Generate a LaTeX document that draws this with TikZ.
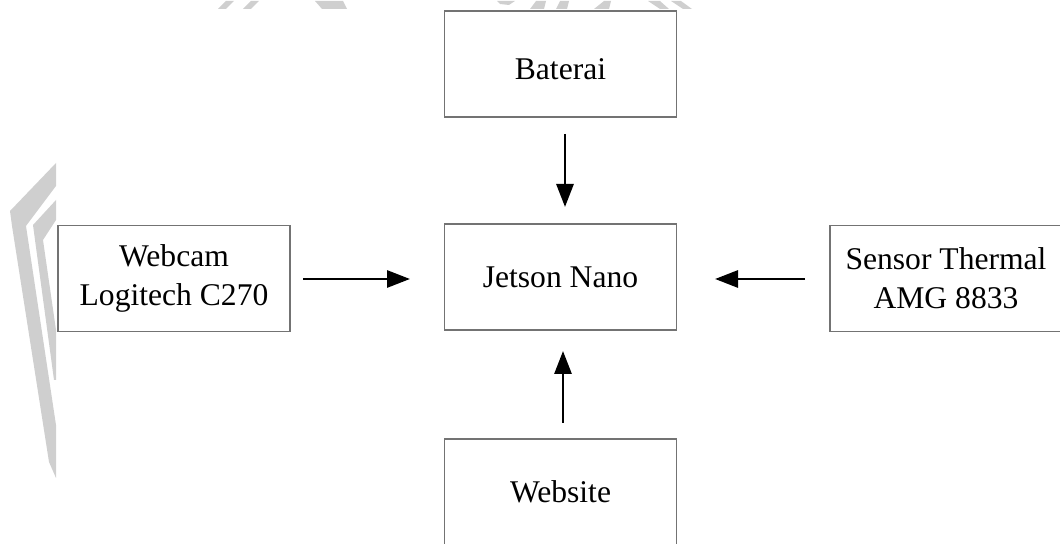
\documentclass[tikz,border=0pt]{standalone}
\usepackage{fontspec}
\setmainfont{Liberation Serif}
\usetikzlibrary{arrows.meta}
\begin{document}
\begin{tikzpicture}[x=0.5pt,y=-0.5pt,
  blockbox/.style={draw=black!55, line width=0.75pt, minimum width=116pt, minimum height=53pt,
    inner sep=0pt, align=center, font=\fontsize{15.8}{19.5}\selectfont},
  flow/.style={line width=1.45pt, -{Triangle[length=11.5pt,width=8.5pt]}},
  wmark/.style={fill=black!19, draw=none}]
\useasboundingbox (0,0) rectangle (1060,544);
% faint watermark
\fill[wmark] (56,163) -- (10,211) -- (12,226) -- (49,462) -- (56,478) -- (56,425) -- (26,226) -- (56,186) -- cycle;
\fill[wmark] (56,200) -- (33,225) -- (35,240) -- (54,380) -- (56,380) -- (56,330) -- (43,240) -- (56,220) -- cycle;
\fill[wmark] (218,9) -- (226,1) -- (234,1) -- (226,9) -- cycle;
\fill[wmark] (243,9) -- (251,1) -- (259,1) -- (251,9) -- cycle;
\fill[wmark] (315,1) -- (343,1) -- (347,9) -- (322,9) -- cycle;
\fill[wmark] (497,1) -- (515,1) -- (509,5) -- (500,4) -- cycle;
\fill[wmark] (530,9) -- (536,1) -- (546,1) -- (544,9) -- cycle;
\fill[wmark] (556,9) -- (560,1) -- (569,1) -- (567,9) -- cycle;
\fill[wmark] (594,9) -- (604,1) -- (611,1) -- (609,9) -- cycle;
\fill[wmark] (648,1) -- (660,1) -- (669,9) -- (660,9) -- cycle;
\fill[wmark] (671,1) -- (681,1) -- (692,9) -- (683,9) -- cycle;
% blocks
\node[blockbox, text height=16pt] (bat) at (560.5,64) {Baterai};
\node[blockbox] (jet) at (560.5,277) {Jetson Nano};
\node[blockbox] (cam) at (174,278.5) {Webcam\\Logitech C270};
\node[blockbox] (sen) at (946,278.5) {Sensor Thermal\\AMG 8833};
\node[blockbox] (web) at (560.5,492) {Website};
% connectors
\coordinate (batA) at (565,117);
\coordinate (batB) at (565,224);
\draw[flow, shorten <=8.5pt, shorten >=8.5pt] (batA) -- (batB);
\coordinate (webA) at (563,439);
\coordinate (webB) at (563,330);
\draw[flow, shorten <=8pt, shorten >=10.5pt] (webA) -- (webB);
\coordinate (camA) at (290,279);
\coordinate (camB) at (444,279);
\draw[flow, shorten <=6.5pt, shorten >=17pt] (camA) -- (camB);
\coordinate (senA) at (830,279);
\coordinate (senB) at (677,279);
\draw[flow, shorten <=12.5pt, shorten >=19pt] (senA) -- (senB);
\end{tikzpicture}
\end{document}
